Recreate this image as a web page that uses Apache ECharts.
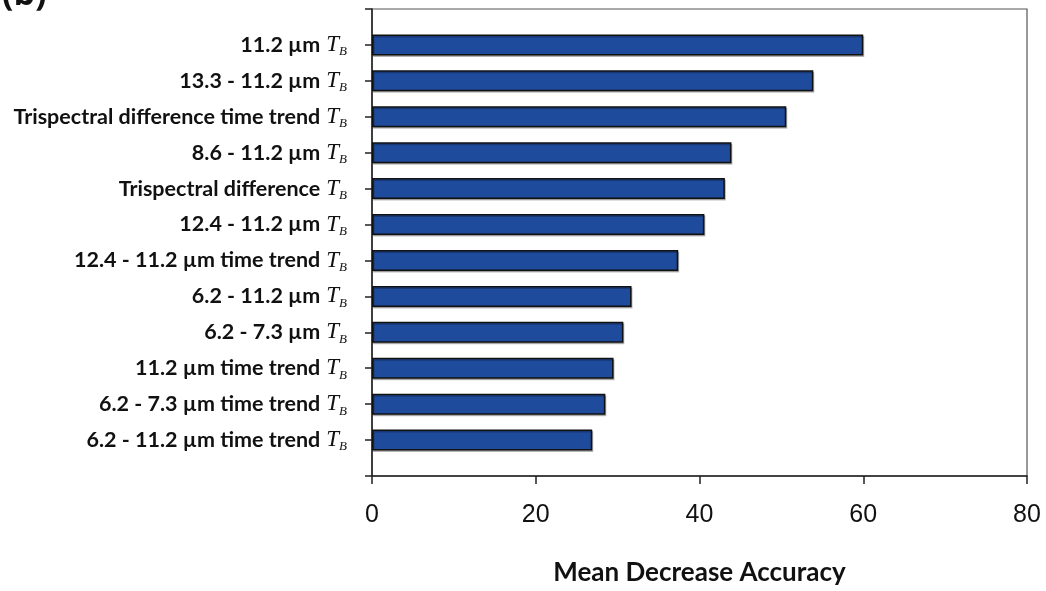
<!DOCTYPE html>
<html>
<head>
<meta charset="utf-8">
<script src="https://cdn.jsdelivr.net/npm/echarts@6/dist/echarts.min.js"></script>
<style>
html,body{margin:0;padding:0;background:#fff;}
#chart{width:1046px;height:591px;}
</style>
</head>
<body>
<div id="chart"></div>
<script>
const categories = [
  "11.2 µm",
  "13.3 - 11.2 µm",
  "Trispectral difference time trend",
  "8.6 - 11.2 µm",
  "Trispectral difference",
  "12.4 - 11.2 µm",
  "12.4 - 11.2 µm time trend",
  "6.2 - 11.2 µm",
  "6.2 - 7.3 µm",
  "11.2 µm time trend",
  "6.2 - 7.3 µm time trend",
  "6.2 - 11.2 µm time trend"
];
const values = [60.0, 53.9, 50.6, 43.9, 43.1, 40.6, 37.4, 31.7, 30.7, 29.5, 28.5, 26.9];
const xTicks = [0, 20, 40, 60, 80];
const xAxisName = "Mean Decrease Accuracy";
const panelLabel = "(b)";

// pad the category axis with one empty slot at each end (as in the figure)
const axisCats = [""].concat(categories, [""]);
const seriesData = [null].concat(values, [null]);

const chart = echarts.init(document.getElementById('chart'), null, {renderer: 'canvas'});
chart.setOption({
  animation: false,
  backgroundColor: '#fff',
  graphic: [{
    type: 'text', left: 2, top: -22,
    style: {text: panelLabel, font: 'bold 34px "Open Sans", sans-serif', fill: '#111'}
  }],
  grid: {
    left: 372, right: 19, top: 9, bottom: 112,
    show: true, borderColor: '#555', borderWidth: 1.2, backgroundColor: 'transparent'
  },
  xAxis: {
    type: 'value', min: xTicks[0], max: xTicks[xTicks.length - 1], interval: 20,
    splitLine: {show: false},
    axisLine: {show: true, lineStyle: {color: '#222', width: 1.5}},
    axisTick: {show: true, inside: false, length: 8, lineStyle: {color: '#222', width: 1.5}},
    axisLabel: {color: '#111', fontSize: 25, fontFamily: '"Liberation Sans", Arial, sans-serif', margin: 27},
    name: xAxisName, nameLocation: 'middle', nameGap: 84,
    nameTextStyle: {color: '#111', fontSize: 26, fontWeight: 'bold', fontFamily: 'Lato, sans-serif'}
  },
  yAxis: {
    type: 'category', data: axisCats, inverse: true, boundaryGap: false,
    axisLine: {show: true, lineStyle: {color: '#222', width: 1.5}},
    axisTick: {show: true, inside: false, length: 7, interval: 0, lineStyle: {color: '#222', width: 1.5}},
    axisLabel: {
      interval: 0, margin: 25,
      formatter: function (v) { return v ? '{a|' + v + '}{t|T}{s|B}' : ''; },
      rich: {
        a: {color: '#111', fontSize: 21.5, fontWeight: 'bold', fontFamily: 'Lato, sans-serif'},
        t: {color: '#111', fontSize: 23, fontStyle: 'italic', fontFamily: '"Liberation Serif", serif', padding: [0, 0, 0, 6]},
        s: {color: '#111', fontSize: 13, fontStyle: 'italic', fontFamily: '"Liberation Serif", serif', padding: [14, 0, 0, 0], verticalAlign: 'bottom'}
      }
    },
    splitLine: {show: false}
  },
  series: [{
    type: 'bar', data: seriesData, barWidth: 21,
    itemStyle: {color: '#1F4B9C', borderColor: '#111', borderWidth: 1.5,
      shadowColor: 'rgba(0,0,0,0.25)', shadowOffsetX: 1, shadowOffsetY: 1.5, shadowBlur: 0}
  }]
});
</script>
</body>
</html>
